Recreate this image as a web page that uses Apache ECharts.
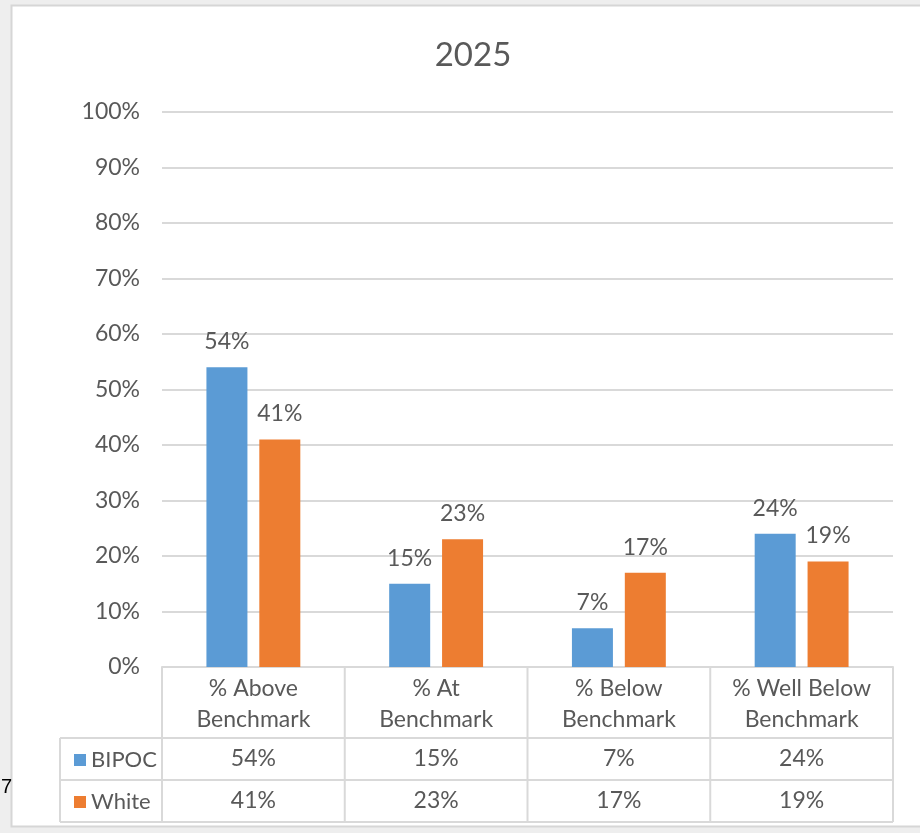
<!DOCTYPE html>
<html>
<head>
<meta charset="utf-8">
<style>
  html, body { margin: 0; padding: 0; background: #eeeeee; }
  #chart { width: 920px; height: 833px; }
</style>
<script src="https://cdn.jsdelivr.net/npm/echarts@6/dist/echarts.min.js"></script>
</head>
<body>
<div id="chart"></div>
<script>
// Benchmark results by group, 2025
const title = '2025';
const categories = ['% Above\nBenchmark', '% At\nBenchmark', '% Below\nBenchmark', '% Well Below\nBenchmark'];
const seriesNames = ['BIPOC', 'White'];
const bipoc = [54, 15, 7, 24];
const white = [41, 23, 17, 19];
const yMin = 0, yMax = 100, yStep = 10;

const FONT = 'Lato';
const TEXT = '#595959';
const LINE = '#d9d9d9';
const COLORS = ['#5b9bd5', '#ed7d31'];
const HEADER_H = 71;   // category header row of the data table
const ROW_H = 42;      // one row per series in the data table
const LEGEND_LEFT = 60;

const pct = v => v + '%';

const chart = echarts.init(document.getElementById('chart'), null, { renderer: 'canvas' });

const option = {
  backgroundColor: '#eeeeee',
  animation: false,
  color: COLORS,
  textStyle: { fontFamily: FONT, color: TEXT },
  title: {
    text: title,
    left: 468,
    top: 34,
    textAlign: 'center',
    textStyle: { fontFamily: FONT, fontSize: 33, fontWeight: 'normal', color: TEXT }
  },
  legend: {
    orient: 'vertical',
    left: 69,
    top: 743,
    icon: 'rect',
    itemWidth: 12,
    itemHeight: 12,
    itemGap: 18,
    selectedMode: false,
    data: seriesNames,
    textStyle: { fontFamily: FONT, fontSize: 22, color: TEXT, lineHeight: 24, padding: [0, 0, 0, 0] }
  },
  grid: {
    left: 162, right: 27, top: 112, bottom: 166,
    outerBoundsMode: 'none'
  },
  xAxis: {
    type: 'category',
    data: categories,
    axisLine: { show: true, lineStyle: { color: LINE, width: 2 } },
    axisTick: { show: false },
    axisLabel: {
      interval: 0,
      margin: 6,
      fontFamily: FONT,
      fontSize: 23,
      lineHeight: 31,
      color: TEXT,
      align: 'center'
    }
  },
  yAxis: {
    type: 'value',
    min: yMin, max: yMax, interval: yStep,
    axisLine: { show: false },
    axisTick: { show: false },
    splitLine: { lineStyle: { color: LINE, width: 2 } },
    axisLabel: {
      formatter: '{value}%',
      margin: 22,
      fontFamily: FONT,
      fontSize: 23,
      color: TEXT
    }
  },
  series: [
    {
      name: seriesNames[0], type: 'bar', data: bipoc,
      barWidth: 41, barGap: '29%',
      label: { show: true, position: 'top', distance: 14, formatter: p => pct(p.value),
               fontFamily: FONT, fontSize: 23, color: TEXT }
    },
    {
      name: seriesNames[1], type: 'bar', data: white,
      barWidth: 41, barGap: '29%',
      label: { show: true, position: 'top', distance: 14, formatter: p => pct(p.value),
               fontFamily: FONT, fontSize: 23, color: TEXT }
    }
  ]
};

chart.setOption(option);

// Data table under the axis, placed from the axis scales
const centers = categories.map((_, i) => chart.convertToPixel({ xAxisIndex: 0 }, i));
const band = centers[1] - centers[0];
const bounds = [centers[0] - band / 2].concat(centers.map(c => c + band / 2));
const yBase = chart.convertToPixel({ yAxisIndex: 0 }, yMin);
const tableRight = bounds[bounds.length - 1];
const tableBottom = yBase + HEADER_H + ROW_H * seriesNames.length;

const graphics = [];
// page frame
graphics.push({
  type: 'rect', z: -10, silent: true,
  shape: { x: 11.5, y: 5.5, width: 930, height: 821 },
  style: { fill: '#ffffff', stroke: '#d6d6d6', lineWidth: 2 }
});
graphics.push({
  type: 'text', silent: true, x: 1, y: 777,
  style: { text: '7', fill: '#000000', font: '20px "Liberation Sans"' }
});

const lineStyle = { stroke: LINE, lineWidth: 2 };
// horizontal rules
for (let r = 0; r <= seriesNames.length; r++) {
  const y = yBase + HEADER_H + ROW_H * r;
  graphics.push({ type: 'line', silent: true, shape: { x1: LEGEND_LEFT, y1: y, x2: tableRight, y2: y }, style: lineStyle });
}
// vertical rules
bounds.forEach(x => {
  graphics.push({ type: 'line', silent: true, shape: { x1: x, y1: yBase, x2: x, y2: tableBottom }, style: lineStyle });
});
graphics.push({ type: 'line', silent: true, shape: { x1: LEGEND_LEFT, y1: yBase + HEADER_H, x2: LEGEND_LEFT, y2: tableBottom }, style: lineStyle });

// cell values
[bipoc, white].forEach((vals, r) => {
  const cy = yBase + HEADER_H + ROW_H * r + ROW_H / 2;
  vals.forEach((v, i) => {
    graphics.push({
      type: 'text', silent: true, x: centers[i], y: cy,
      style: { text: pct(v), fill: TEXT, font: '23px ' + FONT, align: 'center', verticalAlign: 'middle' }
    });
  });
});

chart.setOption({ graphic: graphics });
</script>
</body>
</html>
